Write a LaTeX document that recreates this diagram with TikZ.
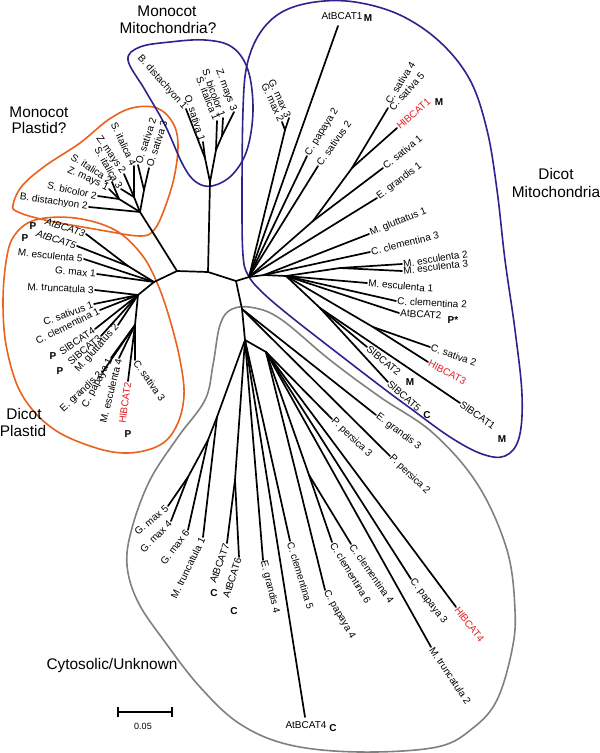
\documentclass[tikz,border=0pt]{standalone}
\usepackage{fontspec}
\setmainfont{Liberation Sans}
\definecolor{orng}{RGB}{234,98,28}
\definecolor{navy}{RGB}{45,35,140}
\definecolor{gry}{RGB}{128,128,128}
\definecolor{redt}{RGB}{228,30,36}
\newcommand\leafat[6]{%
  \coordinate (#1) at (#3);
  \draw[br] (#2) -- (#1);
  \node[lab,anchor=#4,rotate=#5] (#1t) at (#1) {#6};}
\begin{document}
\begin{tikzpicture}[x=1pt,y=-1pt,
  br/.style={line width=1.7pt,line cap=round,line join=round},
  lab/.style={font=\fontsize{10}{12}\selectfont,inner sep=1.2pt},
  mk/.style={font=\fontsize{10}{12}\selectfont\bfseries,inner sep=0pt},
  grp/.style={font=\fontsize{15.4}{18}\selectfont,inner sep=0pt},
  hull/.style={line width=1.6pt}]
\useasboundingbox (0,0) rectangle (600,753);
\fill[white] (0,0) rectangle (600,753);
% ---------- hulls ----------
\draw[hull,orng] plot[smooth cycle,tension=0.6] coordinates {(13,205) (22,186) (45,166) (80,143) (108,120) (132,108) (157,108) (173,123) (178,145) (174,178) (164,210) (154,230) (140,236) (100,230) (45,220) (18,212)};
\draw[hull,orng] plot[smooth cycle,tension=0.6] coordinates {(6,262) (14,236) (35,220) (75,218) (115,230) (142,255) (158,285) (170,320) (180,360) (184,395) (177,425) (160,445) (128,453) (93,447) (52,428) (22,395) (7,350) (3,305)};
\draw[hull,navy] plot[smooth cycle,tension=0.6] coordinates {(128,60) (140,47) (170,42) (205,40) (232,47) (248,70) (253,110) (247,150) (232,175) (212,186) (196,182) (183,165) (165,125) (145,90)};
\draw[hull,navy] plot[smooth cycle,tension=0.6] coordinates {(243,255) (242,200) (243,110) (247,65) (260,33) (282,12) (315,2) (355,2) (400,15) (440,42) (470,80) (487,130) (497,190) (505,260) (515,330) (522,395) (519,438) (505,456) (482,454) (450,437) (410,408) (383,388) (340,355) (290,316) (262,292) (248,275)};
\draw[hull,gry] plot[smooth cycle,tension=0.6] coordinates {(232,309) (220,325) (213,365) (205,400) (178,437) (150,480) (132,528) (127,565) (138,602) (165,642) (200,687) (240,724) (290,745) (360,752) (437,747) (473,728) (497,700) (512,650) (515,610) (507,550) (478,485) (433,433) (380,397) (330,360) (282,320) (255,308)};
% ---------- backbone ----------
\coordinate (A) at (177,271);
\coordinate (B) at (208,272);
\coordinate (C) at (236,281);
\coordinate (M0) at (210,182);
\coordinate (D) at (249,277);
\coordinate (E) at (242,309);
\coordinate (F) at (154,282);
\coordinate (G) at (152,231);
\draw[br] (F) -- (A) -- (B) -- (C) -- (D);
\draw[br] (G) -- (A);
\draw[br] (B) -- (M0);
\draw[br] (C) -- (E);
% ---------- monocot plastid ----------
\coordinate (G1) at (140,212);
\coordinate (G2) at (119,199);
\coordinate (G3) at (144,190);
\coordinate (G4) at (134,197);
\draw[br] (G) -- (G1) -- (G2);
\draw[br] (G1) -- (G3);
\draw[br] (G1) -- (G4);
\leafat{bd2}{G1}{89,207}{east}{-8}{B. distachyon 2}
\leafat{sbc2}{G2}{98,196}{east}{-12}{S. bicolor 2}
\leafat{zm1}{G2}{109,189}{east}{-25}{Z. mays 1}
\leafat{si2}{G2}{112,182}{east}{-33}{S. italica 2}
\leafat{si3}{G4}{121,189}{east}{-60}{S. italica 3}
\leafat{zm2}{G4}{124,174}{east}{-55}{Z. mays 2}
\leafat{si4}{G4}{134,166}{east}{-65}{S. italica 4}
\leafat{os2}{G3}{138,165}{west}{72}{O. sativa 2}
\leafat{os3}{G3}{149,168}{west}{72}{O. sativa 3}
% ---------- monocot mitochondria ----------
\coordinate (ML) at (205,158);
\coordinate (MR) at (216,150);
\coordinate (MR2) at (222,136);
\draw[br] (M0) -- (ML);
\draw[br] (M0) -- (MR) -- (MR2);
\leafat{bd1}{ML}{186,109}{east}{-48}{B. distachyon 1}
\leafat{os1}{ML}{203,142}{east}{-72}{O. sativa 1}
\leafat{si1}{MR}{217,121}{east}{-68}{S. italica 1}
\leafat{sbc1}{MR2}{223,118}{east}{-70}{S. bicolor 1}
\leafat{zm3}{MR2}{234,112}{east}{-70}{Z. mays 3}
% ---------- dicot mitochondria ----------
\coordinate (D1) at (264,275);
\coordinate (D2) at (286,276);
\coordinate (N1) at (313,221);
\coordinate (N2) at (352,168);
\coordinate (Gmx) at (285,130);
\coordinate (Me) at (340,268);
\coordinate (N3) at (320,308);
\coordinate (N4) at (373,327);
\draw[br] (D) -- (D1) -- (D2);
\draw[br] (D) -- (N1) -- (N2);
\draw[br] (D) -- (Gmx);
\draw[br] (D2) -- (Me);
\draw[br] (D2) -- (N3);
\draw[br] (D2) -- (N4);
\leafat{gm2}{Gmx}{282,122}{east}{-65}{G. max 2}
\leafat{gm3}{Gmx}{289,118}{east}{-65}{G. max 3}
\coordinate (at1) at (338,26);
\draw[br] (D) -- (at1);
\node[lab,anchor=base] (at1t) at (342,19) {AtBCAT1};
\node[mk,anchor=base] (at1m) at (368,21) {M};
\leafat{cp2}{D}{307,156}{west}{58}{C. papaya 2}
\leafat{csv2}{D}{318,166}{west}{55}{C. sativus 2}
\coordinate (cs45) at (388,108);
\draw[br] (N2) -- (cs45);
\node[lab,anchor=west,rotate=58] (cs4t) at (387,104) {C. sativa 4};
\node[lab,anchor=west,rotate=48] (cs5t) at (390,110) {C. sativa 5};
\leafat{hl1}{N2}{397,128}{west}{41}{\textcolor{redt}{HlBCAT1}}
\node[mk] (hl1m) at (439,102) {M};
\leafat{cs1}{N1}{383,168}{west}{39}{C. sativa 1}
\leafat{eg1}{D}{377,198}{west}{37}{E. grandis 1}
\leafat{mg1}{D1}{369,234}{west}{22}{M. gluttatus 1}
\leafat{cc3}{D1}{370,252}{west}{14}{C. clementina 3}
\leafat{me2}{Me}{402,264}{west}{9}{M. esculenta 2}
\leafat{me3}{Me}{402,271}{west}{7}{M. esculenta 3}
\leafat{me1}{D2}{367,283}{west}{-5}{M. esculenta 1}
\leafat{cc2}{D2}{396,301}{west}{-3}{C. clementina 2}
\leafat{at2}{D2}{399,313}{west}{-3}{AtBCAT2}
\node[mk] (at2m) at (453,320) {P*};
\leafat{cs2}{N4}{430,347}{west}{-19}{C. sativa 2}
\leafat{hl3}{N4}{428,362}{west}{-28}{\textcolor{redt}{HlBCAT3}}
\leafat{sl2}{N3}{367,347}{west}{-39}{SlBCAT2}
\node[mk] (sl2m) at (410,382) {M};
\leafat{sl5}{N3}{388,382}{west}{-41}{SlBCAT5}
\node[mk] (sl5m) at (427,415) {C};
\leafat{sl1}{N3}{460,403}{west}{-35}{SlBCAT1}
\node[mk] (sl1m) at (502,439) {M};
% ---------- cytosolic ----------
\coordinate (E2) at (245,340);
\coordinate (E3) at (266,352);
\coordinate (Cc) at (309,475);
\coordinate (At67) at (235,480);
\coordinate (J0) at (217,417);
\coordinate (J1) at (208,440);
\coordinate (Gm45) at (188,477);
\draw[br] (E) -- (E2) -- (E3) -- (Cc);
\draw[br] (E2) -- (At67);
\draw[br] (E2) -- (J0) -- (J1) -- (Gm45);
\leafat{eg3}{E}{376,415}{west}{-37}{E. grandis 3}
\leafat{pp2}{E}{390,456}{west}{-44}{P. persica 2}
\leafat{pp3}{E3}{332,419}{west}{-44}{P. persica 3}
\leafat{hl4}{E3}{456,607}{west}{-52}{\textcolor{redt}{HlBCAT4}}
\leafat{cp3}{E3}{411,579}{west}{-52}{C. papaya 3}
\leafat{mt2}{E3}{431,647}{west}{-56}{M. truncatula 2}
\leafat{cc4}{Cc}{351,544}{west}{-55}{C. clementina 4}
\leafat{cc6}{Cc}{332,542}{west}{-59}{C. clementina 6}
\leafat{cp4}{E3}{325,590}{west}{-60}{C. papaya 4}
\leafat{cc5}{E2}{290,541}{west}{-73}{C. clementina 5}
\leafat{eg4}{E2}{263,560}{west}{-76}{E. grandis 4}
\coordinate (at4) at (305,717);
\draw[br] (E2) -- (at4);
\node[lab,anchor=base] (at4t) at (306,728) {AtBCAT4};
\node[mk,anchor=base] (at4m) at (333,731) {C};
\leafat{at7}{At67}{227,543}{east}{70}{AtBCAT7}
\node[mk] (at7m) at (214,593) {C};
\leafat{at6}{At67}{239,557}{east}{72}{AtBCAT6}
\node[mk] (at6m) at (234,611) {C};
\leafat{mt1}{J0}{203,537}{east}{64}{M. truncatula 1}
\leafat{gm6}{J1}{188,530}{east}{53}{G. max 6}
\leafat{gm4}{Gm45}{171,521}{east}{46}{G. max 4}
\leafat{gm5}{Gm45}{168,506}{east}{40}{G. max 5}
% ---------- dicot plastid ----------
\coordinate (F1) at (128,266);
\coordinate (H) at (138,295);
\coordinate (K) at (135,325);
\draw[br] (F) -- (F1);
\draw[br] (F) -- (H) -- (K);
\leafat{at3}{F1}{86,234}{east}{-18}{\itshape AtBCAT3}
\node[mk] (at3m) at (33,226) {P};
\leafat{at5}{F1}{77,246}{east}{-18}{\itshape AtBCAT5}
\node[mk] (at5m) at (25,238) {P};
\leafat{me5}{F}{84,259}{east}{-6}{M. esculenta 5}
\leafat{gm1}{F}{97,274}{east}{-5}{G. max 1}
\leafat{mt3}{H}{95,290}{east}{-3}{M. truncatula 3}
\leafat{csv1}{H}{94,304}{east}{20}{C. sativus 1}
\leafat{cc1}{H}{100,310}{east}{26}{C. clementina 1}
\leafat{sl4}{H}{95,329}{east}{34}{SlBCAT4}
\node[mk] (sl4m) at (53,356) {P};
\leafat{sl3}{H}{101,336}{east}{40}{SlBCAT3}
\node[mk] (sl3m) at (60,371) {P};
\leafat{mg2}{H}{118,325}{east}{48}{M. gluttatus 2}
\leafat{eg2}{K}{102,373}{east}{43}{E. grandis 2}
\leafat{cp1}{K}{111,358}{east}{62}{C. papaya 1}
\leafat{me4}{K}{119,358}{east}{76}{M. esculenta 4}
\leafat{hl2}{K}{128,381}{east}{82}{\textcolor{redt}{HlBCAT2}}
\node[mk] (hl2m) at (128,434) {P};
\leafat{cs3}{K}{135,360}{west}{-55}{C. sativa 3}
% ---------- group labels ----------
\node[grp,anchor=base] (g1a) at (167,16) {Monocot};
\node[grp,anchor=base] (g1b) at (168,33) {Mitochondria?};
\node[grp,anchor=base] (g2a) at (39,117) {Monocot};
\node[grp,anchor=base] (g2b) at (39,133) {Plastid?};
\node[grp,anchor=base] (g3a) at (556,179) {Dicot};
\node[grp,anchor=base] (g3b) at (556,197) {Mitochondria};
\node[grp,anchor=base] (g4a) at (24,419) {Dicot};
\node[grp,anchor=base] (g4b) at (23,436) {Plastid};
\node[grp,anchor=base] (g5) at (112,669) {Cytosolic/Unknown};
% ---------- scale bar ----------
\coordinate (scl) at (118,712);
\coordinate (scr) at (172,712);
\draw[line width=1.5pt] (scl) -- (scr);
\draw[line width=1.5pt] ([yshift=-5pt]scl) -- ([yshift=5pt]scl);
\draw[line width=1.5pt] ([yshift=-5pt]scr) -- ([yshift=5pt]scr);
\node[font=\fontsize{9}{11}\selectfont,inner sep=0pt] (sclab) at (143,726) {0.05};
\end{tikzpicture}
\end{document}
